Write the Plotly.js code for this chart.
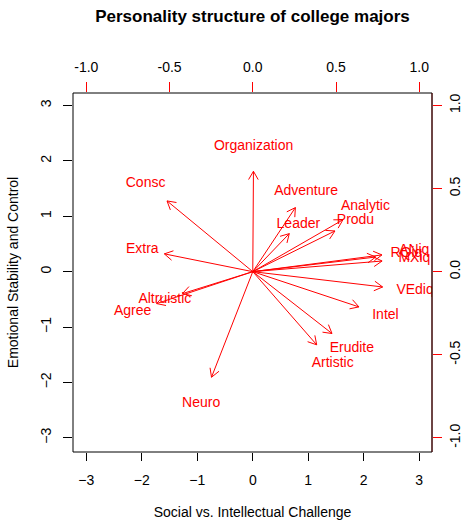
<!DOCTYPE html>
<html>
<head>
<meta charset="utf-8">
<script src="https://cdn.plot.ly/plotly-3.0.1.min.js"></script>
<style>html,body{margin:0;padding:0;background:#fff;}#chart{width:466px;height:521px;}</style>
</head>
<body>
<div id="chart"></div>
<script>
// Variable loadings (label positions, top/right axis units)
const variables = ["Organization","Consc","Adventure","Analytic","Produ","Leader","Extra",
  "ANiq","RQiq","MXiq","VEdiq","Intel","Erudite","Artistic","Neuro","Altruistic","Agree"];
const loadingX = [0.005,-0.644,0.320,0.677,0.617,0.274,-0.664,
  0.970,0.923,0.971,0.975,0.797,0.595,0.480,-0.310,-0.528,-0.722];
const loadingY = [0.755,0.532,0.482,0.390,0.306,0.286,0.134,
  0.126,0.110,0.080,-0.115,-0.265,-0.465,-0.550,-0.794,-0.165,-0.240];

const scoreTicks = [-3,-2,-1,0,1,2,3];
const loadingTicks = [-1,-0.5,0,0.5,1];
const loadingTickText = ["-1.0","-0.5","0.0","0.5","1.0"];

const FONT = "Liberation Sans, Arial, Helvetica, sans-serif";
const W = 466, H = 521;
const M = {l:73, r:34, t:93, b:69};
const xRange = [-3.24, 3.23];
const yRange = [-3.255, 3.225];
const x2Range = xRange.map(v => v/3);
const y2Range = yRange.map(v => v/3);

// arrows drawn to 0.8 of loadings (R biplot style)
const shrink = 0.8;
const plotW = W - M.l - M.r;
const pxPerUnit = plotW / (x2Range[1]-x2Range[0]);
const headLen = 9.6 / pxPerUnit;
const headAng = Math.PI/6;
const ax = [], ay = [];
for (let i = 0; i < variables.length; i++) {
  const tx = loadingX[i]*shrink, ty = loadingY[i]*shrink;
  const th = Math.atan2(ty, tx);
  ax.push(0, tx, null);
  ay.push(0, ty, null);
  ax.push(tx - headLen*Math.cos(th - headAng), tx, tx - headLen*Math.cos(th + headAng), null);
  ay.push(ty - headLen*Math.sin(th - headAng), ty, ty - headLen*Math.sin(th + headAng), null);
}

const traces = [
  // anchor trace so the score (bottom/left) axes are drawn
  {type:"scatter", mode:"markers", x:[0], y:[0], xaxis:"x", yaxis:"y",
   marker:{size:1, opacity:0}, hoverinfo:"skip"},
  {type:"scatter", mode:"lines", x:ax, y:ay, xaxis:"x2", yaxis:"y2",
   line:{color:"#ff0000", width:1}, hoverinfo:"skip", connectgaps:false},
  {type:"scatter", mode:"text", x:loadingX, y:loadingY, text:variables, xaxis:"x2", yaxis:"y2",
   textposition:"middle center", textfont:{family:FONT, size:14, color:"#ff0000"},
   cliponaxis:true, hoverinfo:"text"}
];

const baseAxis = {showgrid:false, zeroline:false, showline:false, ticks:"outside",
  tickfont:{family:FONT, size:14, color:"#000"}, automargin:false};

const layout = {
  width:W, height:H, margin:{l:M.l, r:M.r, t:M.t, b:M.b, pad:0},
  paper_bgcolor:"#fff", plot_bgcolor:"#fff", showlegend:false,
  font:{family:FONT, size:14, color:"#000"},
  title:{text:"<b>Personality structure of college majors</b>", font:{family:FONT, size:17, color:"#000"},
         x:0.5, xref:"paper", xanchor:"center", y:1-16/H, yref:"container", yanchor:"middle"},
  xaxis: Object.assign({}, baseAxis, {range:xRange, tickvals:scoreTicks, ticklen:8, tickcolor:"#000",
    ticklabelstandoff:7,
    title:{text:"Social vs. Intellectual Challenge", font:{family:FONT, size:14, color:"#000"}, standoff:20}}),
  yaxis: Object.assign({}, baseAxis, {range:yRange, tickvals:scoreTicks, ticklen:9, tickcolor:"#000", tickangle:-90,
    ticklabelstandoff:6,
    title:{text:"Emotional Stability and Control", font:{family:FONT, size:14, color:"#000"}, standoff:16}}),
  xaxis2: Object.assign({}, baseAxis, {range:x2Range, overlaying:"x", side:"top", anchor:"y",
    tickvals:loadingTicks, ticktext:loadingTickText, ticklen:10, tickcolor:"#ff0000", ticklabelstandoff:4}),
  yaxis2: Object.assign({}, baseAxis, {range:y2Range, overlaying:"y", side:"right", anchor:"x",
    tickvals:loadingTicks, ticktext:loadingTickText, ticklen:9, tickcolor:"#ff0000", tickangle:-90,
    ticklabelstandoff:1}),
  shapes:[
    {type:"rect", xref:"paper", yref:"paper", x0:0, x1:1, y0:0, y1:1, line:{color:"#000", width:1}},
    {type:"line", xref:"paper", yref:"paper", x0:1, x1:1, y0:0, y1:1, line:{color:"#5a0a0a", width:1}}
  ]
};

Plotly.newPlot("chart", traces, layout, {displayModeBar:false, staticPlot:true});
</script>
</body>
</html>
